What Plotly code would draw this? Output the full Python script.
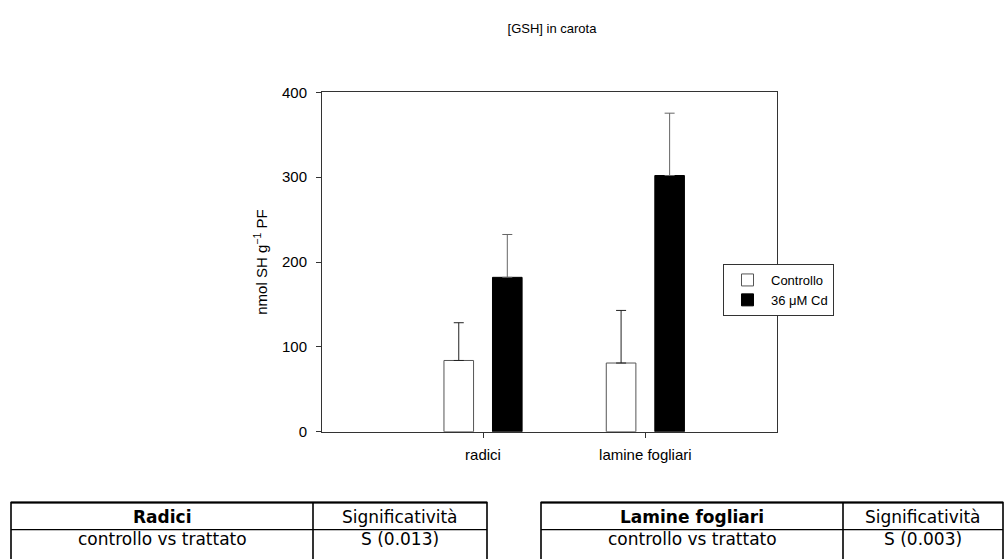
import plotly.graph_objects as go

# ---- data ----
categories = ["radici", "lamine fogliari"]
cat_pos = [0, 1]
controllo = [84, 81]
controllo_err = [44.5, 62]
cadmio = [182, 302]
cadmio_err = [50.5, 73.5]
series_names = ["Controllo", "36 \u03bcM Cd"]
y_ticks = [0, 100, 200, 300, 400]

table_left_header = ["<b>Radici</b>", "Significatività"]
table_left_row = ["controllo vs trattato", "S (0.013)"]
table_right_header = ["<b>Lamine fogliari</b>", "Significatività"]
table_right_row = ["controllo vs trattato", "S (0.003)"]

W, H = 1004, 559
# plot area in pixels
PL, PR, PT, PB = 322, 777, 86, 436


def px(x):
    return x / W


def py(y):
    return 1 - y / H


fig = go.Figure()

fig.add_trace(go.Bar(
    x=cat_pos, y=controllo, name=series_names[0],
    marker=dict(color="white", line=dict(color="#555555", width=1)),
    error_y=dict(type="data", array=controllo_err, arrayminus=[0, 0], symmetric=False,
                 color="#222222", thickness=1, width=5),
))
fig.add_trace(go.Bar(
    x=cat_pos, y=cadmio, name=series_names[1],
    marker=dict(color="black", line=dict(color="black", width=1)),
    error_y=dict(type="data", array=cadmio_err, arrayminus=[0, 0], symmetric=False,
                 color="#666666", thickness=1, width=5),
))

# ---- significance tables (drawn as shapes + text) ----
shapes = []
annotations = []
cell_font = dict(family="DejaVu Sans, sans-serif", size=17, color="black")
tables = [
    (11, 313, 487, table_left_header, table_left_row),
    (541, 843, 1003, table_right_header, table_right_row),
]
T_TOP, T_MID, T_BOT = 509, 537, 575
for x0, xm, x1, hdr, row in tables:
    shapes.append(dict(type="rect", xref="paper", yref="paper",
                       x0=px(x0), x1=px(x1), y0=py(T_BOT), y1=py(T_TOP),
                       line=dict(color="black", width=1.6), fillcolor="rgba(0,0,0,0)"))
    shapes.append(dict(type="line", xref="paper", yref="paper",
                       x0=px(x0), x1=px(x1), y0=py(T_TOP), y1=py(T_TOP),
                       line=dict(color="black", width=2.2)))
    shapes.append(dict(type="line", xref="paper", yref="paper",
                       x0=px(x0), x1=px(x1), y0=py(T_MID), y1=py(T_MID),
                       line=dict(color="black", width=1.4)))
    shapes.append(dict(type="line", xref="paper", yref="paper",
                       x0=px(xm), x1=px(xm), y0=py(T_BOT), y1=py(T_TOP),
                       line=dict(color="black", width=1.6)))
    centers = [(x0 + xm) / 2, (xm + x1) / 2]
    for i in range(2):
        annotations.append(dict(text=hdr[i], x=px(centers[i]), y=py(523.5),
                                xref="paper", yref="paper", xanchor="center", yanchor="middle",
                                showarrow=False, font=cell_font))
        annotations.append(dict(text=row[i], x=px(centers[i]), y=py(546.5),
                                xref="paper", yref="paper", xanchor="center", yanchor="middle",
                                showarrow=False, font=cell_font))

axis_font = dict(family="Liberation Sans, Arial, sans-serif", size=15, color="black")

fig.update_layout(
    width=W, height=H,
    margin=dict(l=0, r=0, t=0, b=0),
    paper_bgcolor="white", plot_bgcolor="white",
    barmode="group", bargap=0.402, bargroupgap=0.39,
    title=dict(text="[GSH] in carota", x=px(552), xanchor="center",
               y=py(28), yanchor="middle",
               font=dict(family="Liberation Sans, Arial, sans-serif", size=13, color="black")),
    xaxis=dict(domain=[px(PL), px(PR)], range=[-0.992, 1.811],
               tickvals=cat_pos, ticktext=categories,
               showline=True, linecolor="#333333", linewidth=1, mirror=True,
               ticks="outside", ticklen=5, tickcolor="#333333",
               showgrid=False, zeroline=False, tickfont=axis_font,
               ticklabelstandoff=4),
    yaxis=dict(domain=[py(PB), py(PT)], range=[0, 400],
               tickvals=y_ticks,
               showline=True, linecolor="#333333", linewidth=1, mirror=True,
               ticks="outside", ticklen=5, tickcolor="#333333",
               showgrid=False, zeroline=False, tickfont=axis_font,
               ticklabelstandoff=6,
               title=dict(text="nmol SH g<sup>\u22121</sup> PF",
                          font=dict(family="Liberation Sans, Arial, sans-serif", size=15, color="black"),
                          standoff=10)),
    legend=dict(x=px(723), y=py(263), xanchor="left", yanchor="top",
                bgcolor="white", bordercolor="#333333", borderwidth=1,
                itemwidth=37,
                font=dict(family="Liberation Sans, Arial, sans-serif", size=13, color="black"),
                tracegroupgap=2),
    showlegend=True,
    shapes=shapes,
    annotations=annotations,
)

fig.write_html("out.html")
